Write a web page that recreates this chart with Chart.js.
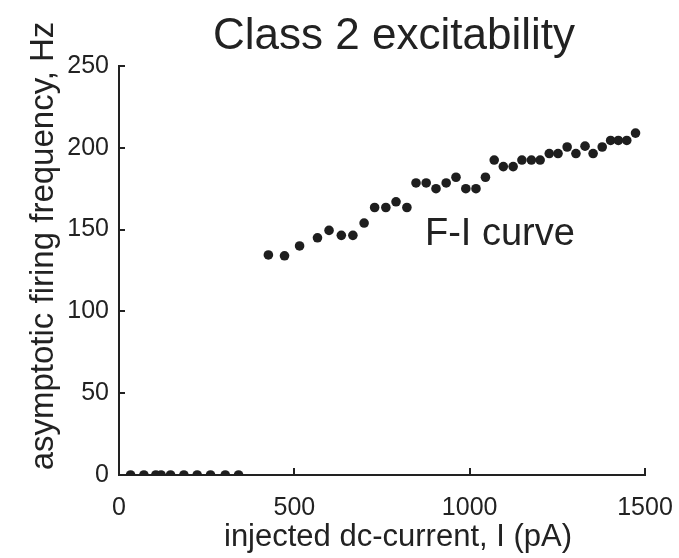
<!DOCTYPE html>
<html>
<head>
<meta charset="utf-8">
<script src="https://cdn.jsdelivr.net/npm/chart.js@4.4.1/dist/chart.umd.min.js"></script>
<style>
  html, body { margin: 0; padding: 0; background: #ffffff; }
  #wrap { width: 679px; height: 558px; }
</style>
</head>
<body>
<div id="wrap"><canvas id="c" width="679" height="558"></canvas></div>
<script>
// ---- data ----
const chartTitle = "Class 2 excitability";
const xAxisTitle = "injected dc-current, I (pA)";
const yAxisTitle = "asymptotic firing frequency, Hz";
const curveLabel = "F-I curve";

const xTicks = [0, 500, 1000, 1500];
const yTicks = [0, 50, 100, 150, 200, 250];

// injected current, pA
const currents = [
  33, 71, 105, 120, 147, 185, 223, 261, 303, 341,
  426, 472, 515, 566, 599, 634, 667, 699, 729, 761, 790, 821,
  847, 876, 904, 933, 961, 989, 1018, 1045, 1070, 1096, 1124,
  1149, 1176, 1201, 1227, 1252, 1278, 1303, 1329, 1352, 1378, 1402, 1424, 1448, 1473
];
// asymptotic firing frequency, Hz
const frequencies = [
  0, 0, 0, 0, 0, 0, 0, 0, 0, 0,
  134.5, 134, 140, 145, 149.5, 146.5, 146.5, 154, 163.5, 163.5, 167, 163.5,
  178.5, 178.5, 175, 178.5, 182, 175, 175, 182, 192.5, 188.5, 188.5,
  192.5, 192.5, 192.5, 196.5, 196.5, 200.5, 196.5, 201, 196.5, 200.5, 204.5, 204.5, 204.5, 209
];

const points = currents.map((x, i) => ({ x: x, y: frequencies[i] }));

const FONT = "'Liberation Sans', Arial, Helvetica, sans-serif";
const INK = '#222222';

// Draw inward tick marks and the free text (title, axis titles, curve label)
const decorPlugin = {
  id: 'decor',
  afterDraw(chart) {
    const ctx = chart.ctx;
    const xs = chart.scales.x, ys = chart.scales.y;
    const area = chart.chartArea;
    ctx.save();
    ctx.strokeStyle = INK;
    ctx.lineWidth = 2;
    ctx.beginPath();
    yTicks.forEach(v => {
      if (v === 0) return;
      const py = Math.round(ys.getPixelForValue(v));
      ctx.moveTo(area.left, py);
      ctx.lineTo(area.left + 6, py);
    });
    xTicks.forEach(v => {
      if (v === 0) return;
      const px = Math.round(xs.getPixelForValue(v));
      ctx.moveTo(px, area.bottom);
      ctx.lineTo(px, area.bottom - 7);
    });
    ctx.stroke();

    ctx.fillStyle = INK;
    ctx.textBaseline = 'alphabetic';
    // Title
    ctx.font = '44px ' + FONT;
    ctx.textAlign = 'center';
    ctx.fillText(chartTitle, 394, 49);
    // Curve label
    ctx.font = '38px ' + FONT;
    ctx.textAlign = 'left';
    ctx.fillText(curveLabel, 425, 245);
    // X axis title
    ctx.font = '31px ' + FONT;
    ctx.textAlign = 'center';
    ctx.fillText(xAxisTitle, 398, 546);
    // Y axis title (rotated)
    ctx.save();
    ctx.translate(53, 246);
    ctx.rotate(-Math.PI / 2);
    ctx.font = '33px ' + FONT;
    ctx.textAlign = 'center';
    ctx.fillText(yAxisTitle, 0, 0);
    ctx.restore();
    ctx.restore();
  }
};

new Chart(document.getElementById('c'), {
  type: 'scatter',
  data: {
    datasets: [{
      label: curveLabel,
      data: points,
      pointRadius: 4.8,
      pointHoverRadius: 4.8,
      pointBackgroundColor: '#1e1e1e',
      pointBorderWidth: 0,
      showLine: false
    }]
  },
  options: {
    responsive: false,
    devicePixelRatio: 1,
    animation: false,
    events: [],
    layout: { padding: { top: 66, right: 34, left: 0, bottom: 0 } },
    plugins: {
      legend: { display: false },
      title: { display: false },
      tooltip: { enabled: false }
    },
    scales: {
      x: {
        type: 'linear',
        min: 0, max: 1500,
        afterBuildTicks(scale) { scale.ticks = xTicks.map(v => ({ value: v })); },
        afterFit(scale) {
          scale.height = 83;
          scale.paddingLeft = 0;
          scale.paddingRight = 0;
        },
        grid: { display: false, drawTicks: false },
        border: { display: true, color: INK, width: 2 },
        ticks: {
          color: INK,
          padding: 18,
          maxRotation: 0,
          autoSkip: false,
          callback: (v) => String(v),
          font: { family: FONT, size: 25 }
        }
      },
      y: {
        type: 'linear',
        min: 0, max: 250,
        afterBuildTicks(scale) { scale.ticks = yTicks.map(v => ({ value: v })); },
        afterFit(scale) {
          scale.width = 119;
          scale.paddingTop = 0;
          scale.paddingBottom = 0;
        },
        grid: { display: false, drawTicks: false },
        border: { display: true, color: INK, width: 2 },
        ticks: {
          color: INK,
          padding: 10,
          autoSkip: false,
          callback: (v) => String(v),
          font: { family: FONT, size: 25 }
        }
      }
    }
  },
  plugins: [decorPlugin]
});
</script>
</body>
</html>
